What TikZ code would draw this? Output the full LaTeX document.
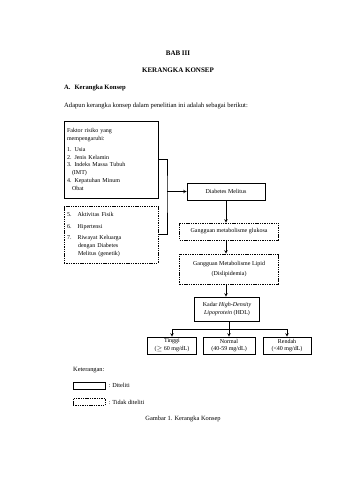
\documentclass[tikz,border=0pt]{standalone}
\usepackage{fontspec}
\setmainfont{Liberation Serif}
\usepackage{amssymb}
\usetikzlibrary{positioning}

\tikzset{
  teliti/.style={draw,line width=0.6pt,inner sep=1.5pt,align=center,
    font=\fontsize{6}{7.8}\selectfont},
  tidak/.style={teliti,dash pattern=on 1.4pt off 0.9pt},
  teks/.style={inner sep=0pt,font=\fontsize{7}{8.5}\selectfont}
}

\begin{document}
\begin{tikzpicture}[>=stealth,x=1pt,y=-1pt]
    \useasboundingbox[fill=white] (0,0) rectangle (339,480);

    % 1) Judul bab
    \node[teks,font=\fontsize{7}{8.5}\selectfont\bfseries] (bab) at (178,53) {BAB III};
    \node[teks,font=\fontsize{7}{8.5}\selectfont\bfseries] (judul) at (178,70) {KERANGKA KONSEP};
    \node[teks,font=\fontsize{6.6}{8}\selectfont\bfseries,anchor=west] (sub) at (64,88) {A.\hspace{4pt}Kerangka Konsep};
    \node[teks,font=\fontsize{6.6}{8}\selectfont,anchor=west] (intro) at (64,106)
      {Adapun kerangka konsep dalam penelitian ini adalah sebagai berikut:};

    % 2) Faktor risiko (diteliti dan tidak diteliti)
    \node[teliti,minimum width=94pt,minimum height=77pt,text width=88pt,align=left] (faktor) at (111,159.5)
      {Faktor risiko yang\\ mempengaruhi:\\[3pt]
       1. Usia\\ 2. Jenis Kelamin\\ 3. Indeks Massa Tubuh\\ \hspace*{5pt}(IMT)\\
       4. Kepatuhan Minum\\ \hspace*{5pt}Obat};
    \node[tidak,minimum width=94pt,minimum height=57pt,text width=88pt,align=left] (lain) at (111,234.5)
      {5.\hspace{6pt}Aktivitas Fisik\\[4pt] 6.\hspace{6pt}Hipertensi\\[4pt]
       7.\hspace{6pt}Riwayat Keluarga\\ \hspace*{11pt}dengan Diabetes\\ \hspace*{11pt}Melitus (genetik)};

    % 3) Alur utama
    \node[teliti,minimum width=78pt,minimum height=17pt] (dm) at (226,191.5) {Diabetes Melitus};
    \node[tidak,minimum width=99pt,minimum height=17pt] (glukosa) at (229,231.5) {Gangguan metabolisme glukosa};
    \node[tidak,minimum width=99pt,minimum height=30pt] (lipid) at (229,269)
      {Gangguan Metabolisme Lipid\\[2pt] (Dislipidemia)};
    \node[teliti,minimum width=65pt,minimum height=24pt] (hdl) at (227,309)
      {Kadar \textit{High-Density}\\ \textit{Lipoprotein} (HDL)};

    % 4) Kategori kadar HDL
    \node[teliti,minimum width=49pt,minimum height=17pt] (tinggi) at (172,345.5) {Tinggi\\ (${\geq}$ 60 mg/dL)};
    \node[teliti,minimum width=52pt,minimum height=17pt] (normal) at (229,345.5) {Normal\\ (40-59 mg/dL)};
    \node[teliti,minimum width=48pt,minimum height=17pt] (rendah) at (287,345.5) {Rendah\\ (\textless40 mg/dL)};

    % 5) Garis penghubung
    \coordinate (gabung) at (167,191.5);
    \coordinate (cabang) at (229,329);
    \draw[line width=0.6pt] (faktor.east) -| (gabung) |- (lain.east);
    \draw[->,line width=0.6pt] (gabung) -- (dm.west);
    \draw[->,line width=0.6pt] (dm.south) -- (dm.south |- glukosa.north);
    \draw[->,line width=0.6pt] (glukosa.south -| dm.south) -- (dm.south |- lipid.north);
    \draw[->,line width=0.6pt] (lipid.south -| dm.south) -- (dm.south |- hdl.north);
    \draw[line width=0.6pt] (hdl.south -| cabang) -- (cabang);
    \draw[->,line width=0.6pt] (cabang) -| (tinggi.north);
    \draw[->,line width=0.6pt] (cabang) -- (normal.north);
    \draw[->,line width=0.6pt] (cabang) -| (rendah.north);

    % 6) Keterangan
    \node[teks,font=\fontsize{6.4}{8}\selectfont,anchor=west] (ket) at (73,370) {Keterangan:};
    \node[teliti,minimum width=32pt,minimum height=7pt,inner sep=0pt] (lgteliti) at (89,385.5) {};
    \node[tidak,minimum width=32pt,minimum height=7pt,inner sep=0pt] (lgtidak) at (89,402) {};
    \node[teks,font=\fontsize{6.2}{8}\selectfont,anchor=west,right=3pt of lgteliti] (lbteliti) {: Diteliti};
    \node[teks,font=\fontsize{6.2}{8}\selectfont,anchor=west,right=3pt of lgtidak] (lbtidak) {: Tidak diteliti};
    \node[teks,font=\fontsize{6.4}{8}\selectfont] (gambar) at (183,419) {Gambar 1. Kerangka Konsep};
\end{tikzpicture}
\end{document}
